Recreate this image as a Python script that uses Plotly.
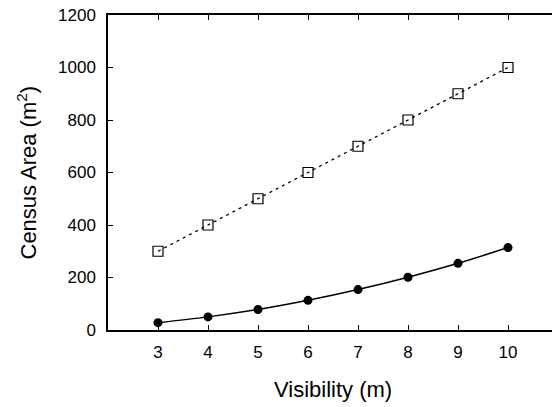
import plotly.graph_objects as go

visibility = [3, 4, 5, 6, 7, 8, 9, 10]
area_circle = [28, 50, 78, 113, 154, 201, 254, 314]
area_square = [300, 400, 500, 600, 700, 800, 900, 1000]
y_ticks = [0, 200, 400, 600, 800, 1000, 1200]

L, R, T, B = 108, 552, 15, 330
W, H = 552, 407

fig = go.Figure()
fig.add_trace(go.Scatter(
    x=visibility, y=area_square, mode="lines+markers",
    line=dict(color="black", width=1.3, dash="3px,4px"),
    marker=dict(symbol="square-open", size=10, color="black", line=dict(width=1.2)),
    showlegend=False, cliponaxis=False))
fig.add_trace(go.Scatter(
    x=visibility, y=area_circle, mode="lines+markers",
    line=dict(color="black", width=1.5, shape="spline"),
    marker=dict(symbol="circle", size=9, color="black"),
    showlegend=False, cliponaxis=False))

font = dict(family="Liberation Sans, Arial, sans-serif", color="black")
fig.update_layout(
    width=W, height=H,
    margin=dict(l=L, r=W - R, t=T, b=H - B),
    plot_bgcolor="white", paper_bgcolor="white",
    font=dict(**font, size=17),
)
fig.update_xaxes(
    range=[2, 10.88], tickvals=visibility, ticks="inside", ticklen=5,
    tickcolor="black", showline=True, linecolor="black", linewidth=1.5,
    mirror="ticks", showgrid=False, zeroline=False,
    tickfont=dict(size=17), ticklabelstandoff=6,
)
fig.update_yaxes(
    range=[0, 1200], tickvals=y_ticks, ticks="inside", ticklen=5,
    tickcolor="black", showline=True, linecolor="black", linewidth=1.5,
    mirror=False, showgrid=False, zeroline=False,
    tickfont=dict(size=17), ticklabelstandoff=7,
)
# axis titles
fig.add_annotation(text="Visibility (m)", xref="paper", yref="paper",
                   x=(333 - L) / (R - L), y=-(389 - B) / (B - T),
                   xanchor="center", yanchor="middle", showarrow=False,
                   font=dict(size=22))
fig.add_annotation(text="Census Area (m<sup>2</sup>)", xref="paper", yref="paper",
                   x=-(L - 26) / (R - L), y=0.5, textangle=-90,
                   xanchor="center", yanchor="middle", showarrow=False,
                   font=dict(size=22))
fig.write_html("out.html")
